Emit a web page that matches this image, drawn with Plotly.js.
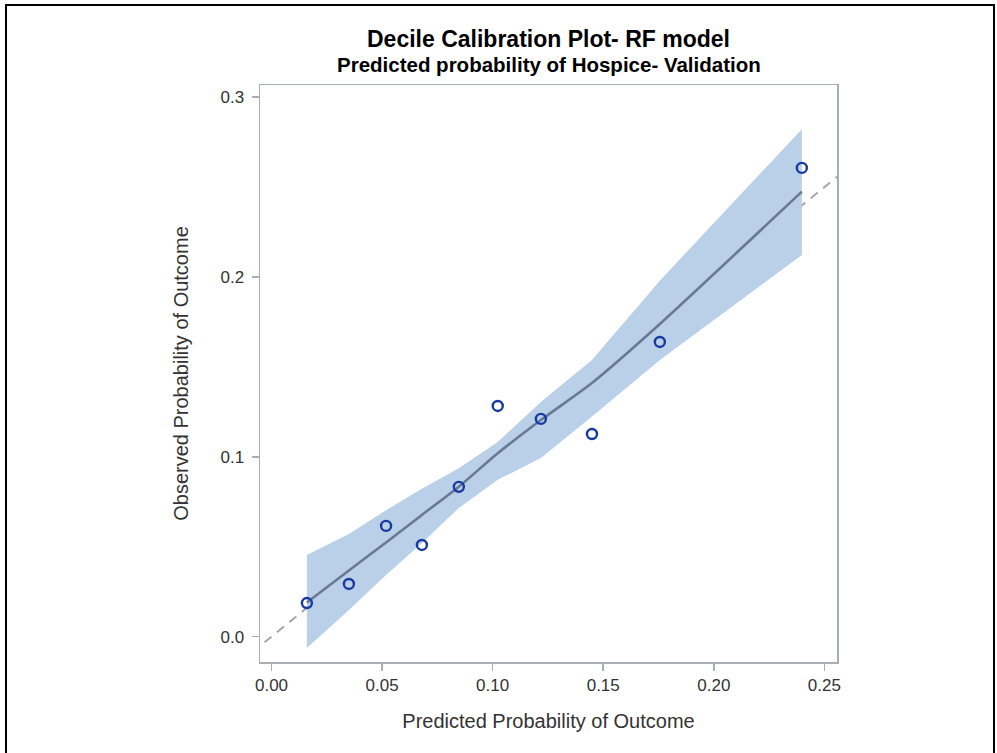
<!DOCTYPE html>
<html>
<head>
<meta charset="utf-8">
<script src="https://cdn.plot.ly/plotly-3.0.1.min.js"></script>
<style>
  html, body { margin: 0; padding: 0; background: #fff; }
  #wrap { position: relative; width: 997px; height: 753px; overflow: hidden; }
  #chart { position: absolute; left: 0; top: 0; width: 997px; height: 753px; }
  #frame { position: absolute; left: 5px; top: 4px; width: 986px; height: 760px;
           border: 2px solid #000; pointer-events: none; }
</style>
</head>
<body>
<div id="wrap">
  <div id="chart"></div>
  <div id="frame"></div>
</div>
<script>
// Decile points (predicted vs observed)
const predicted = [0.0160, 0.0350, 0.0518, 0.0680, 0.0847, 0.1023, 0.1218, 0.1449, 0.1756, 0.2398];
const observed  = [0.0187, 0.0293, 0.0616, 0.0510, 0.0833, 0.1283, 0.1211, 0.1127, 0.1639, 0.2607];
// Smoothed calibration curve and its confidence band at the same predicted values
const smoothFit = [0.0190, 0.0368, 0.0524, 0.0677, 0.0834, 0.1020, 0.1205, 0.1411, 0.1739, 0.2475];
const bandUpper = [0.0454, 0.0571, 0.0703, 0.0822, 0.0937, 0.1083, 0.1305, 0.1539, 0.1980, 0.2822];
const bandLower = [-0.0063, 0.0148, 0.0343, 0.0521, 0.0716, 0.0872, 0.0994, 0.1224, 0.1539, 0.2123];
// Reference (perfect calibration) line y = x
const refLine = [-0.02, 0.27];
const xTicks = [0.00, 0.05, 0.10, 0.15, 0.20, 0.25];
const xTickText = ["0.00", "0.05", "0.10", "0.15", "0.20", "0.25"];
const yTicks = [0.0, 0.1, 0.2, 0.3];
const yTickText = ["0.0", "0.1", "0.2", "0.3"];

const FONT = "Liberation Sans, Arial, sans-serif";

const traces = [
  { x: refLine, y: refLine, mode: "lines", type: "scatter",
    line: { color: "#a6a6a6", width: 2, dash: "9px,7px" }, hoverinfo: "skip" },
  { x: predicted, y: bandLower, mode: "lines", type: "scatter",
    line: { width: 0, color: "rgba(0,0,0,0)" }, hoverinfo: "skip" },
  { x: predicted, y: bandUpper, mode: "lines", type: "scatter", fill: "tonexty",
    fillcolor: "rgb(186,207,232)", line: { width: 0, color: "rgba(0,0,0,0)" }, hoverinfo: "skip" },
  { x: predicted, y: smoothFit, mode: "lines", type: "scatter",
    line: { color: "rgb(102,122,150)", width: 2.6, shape: "spline", smoothing: 0.6 } },
  { x: predicted, y: observed, mode: "markers", type: "scatter",
    marker: { symbol: "circle-open", size: 10, color: "rgb(24,58,160)", line: { width: 2.4, color: "rgb(24,58,160)" } } }
];

const axisCommon = {
  showgrid: false, zeroline: false, showline: true, mirror: true,
  linecolor: "#a9aeb4", linewidth: 1.5,
  ticks: "outside", ticklen: 7, tickwidth: 1.5, tickcolor: "#a9aeb4",
  tickfont: { family: FONT, size: 17, color: "#333" },
  tickmode: "array"
};

const layout = {
  width: 997, height: 753,
  margin: { l: 260, r: 160, t: 85, b: 91 },
  paper_bgcolor: "#fff", plot_bgcolor: "#fff",
  showlegend: false,
  xaxis: Object.assign({}, axisCommon, {
    range: [-0.0052, 0.2557], tickvals: xTicks, ticktext: xTickText,
    title: { text: "Predicted Probability of Outcome", font: { family: FONT, size: 20, color: "#333" }, standoff: 20 }
  }),
  yaxis: Object.assign({}, axisCommon, {
    range: [-0.0141, 0.3068], tickvals: yTicks, ticktext: yTickText,
    ticklabelstandoff: 4,
    title: { text: "Observed Probability of Outcome", font: { family: FONT, size: 20, color: "#333" }, standoff: 26 }
  }),
  annotations: [
    { text: "<b>Decile Calibration Plot- RF model</b>", xref: "paper", yref: "paper",
      x: 0.5, y: 1, yshift: 46, xanchor: "center", yanchor: "middle", showarrow: false,
      font: { family: FONT, size: 23, color: "#000" } },
    { text: "<b>Predicted probability of Hospice- Validation</b>", xref: "paper", yref: "paper",
      x: 0.5, y: 1, yshift: 21, xanchor: "center", yanchor: "middle", showarrow: false,
      font: { family: FONT, size: 20.5, color: "#000" } }
  ]
};

Plotly.newPlot("chart", traces, layout, { displayModeBar: false, staticPlot: true });
</script>
</body>
</html>
